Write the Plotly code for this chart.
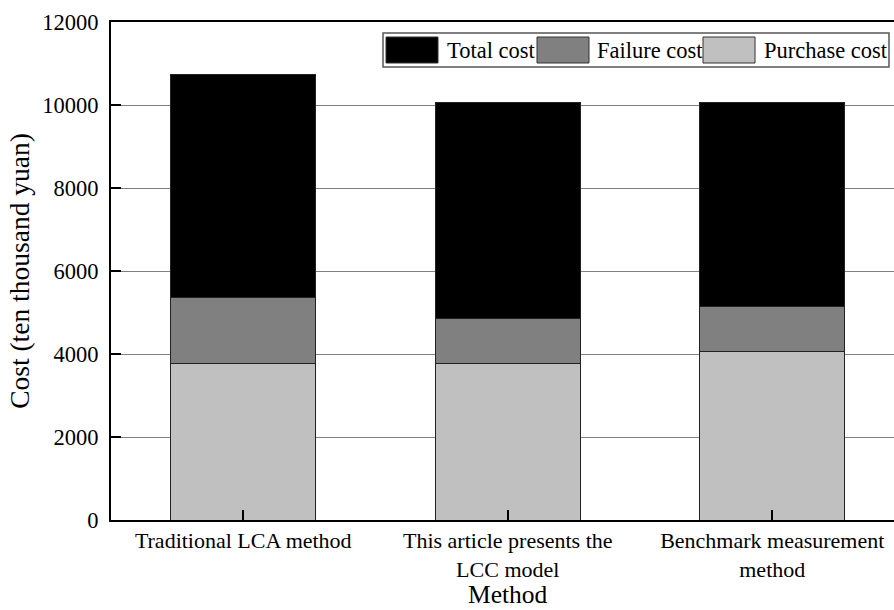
import numpy as np
import plotly.graph_objects as go

categories = ["Traditional LCA method", "This article presents the<br>LCC model", "Benchmark measurement<br>method"]
purchase_cost = [3780, 3780, 4050]
failure_cost = [1570, 1070, 1100]
total_cost = [10730, 10050, 10050]
y_ticks = [0, 2000, 4000, 6000, 8000, 10000, 12000]

FONT = "'Liberation Serif', 'Times New Roman', serif"
W, H = 894, 610
L, R, T, B = 111, 0, 22, 90

top_segment = (np.array(total_cost) - np.array(purchase_cost) - np.array(failure_cost)).tolist()
xs = list(range(len(categories)))

fig = go.Figure()
line_style = dict(color="#222222", width=1)
fig.add_trace(go.Bar(x=xs, y=purchase_cost, name="Purchase cost", marker=dict(color="#c0c0c0", line=line_style), width=0.55))
fig.add_trace(go.Bar(x=xs, y=failure_cost, name="Failure cost", marker=dict(color="#808080", line=line_style), width=0.55))
fig.add_trace(go.Bar(x=xs, y=top_segment, name="Total cost", marker=dict(color="#000000", line=line_style), width=0.55,
                     customdata=total_cost, hovertemplate="Total cost: %{customdata}<extra></extra>"))

def px_x(p):
    return (p - L) / (W - L - R)

def px_y(p):
    return (H - B - p) / (H - B - T)

shapes = []
annotations = []
# legend box
shapes.append(dict(type="rect", xref="paper", yref="paper", x0=px_x(383), x1=px_x(889), y0=px_y(67), y1=px_y(33),
                   line=dict(color="#555555", width=1.5), fillcolor="white", layer="above"))
legend_items = [("Total cost", "#000000", 386, 438, 445), ("Failure cost", "#808080", 537, 589, 595), ("Purchase cost", "#c0c0c0", 703, 755, 762)]
for name, col, a, b, tx in legend_items:
    shapes.append(dict(type="rect", xref="paper", yref="paper", x0=px_x(a), x1=px_x(b), y0=px_y(63), y1=px_y(37),
                       line=dict(color="#333333", width=1), fillcolor=col, layer="above"))
    annotations.append(dict(text=name, xref="paper", yref="paper", x=px_x(tx), y=px_y(50), xanchor="left", yanchor="middle",
                            showarrow=False, font=dict(family=FONT, size=22.5, color="black")))
# x-axis title
annotations.append(dict(text="Method", xref="paper", yref="paper", x=px_x(508), y=px_y(610), xanchor="center", yanchor="bottom",
                        borderpad=0, showarrow=False, font=dict(family=FONT, size=25.5, color="black")))

fig.update_layout(
    width=W, height=H,
    margin=dict(l=L, r=R, t=T, b=B),
    barmode="stack",
    plot_bgcolor="white", paper_bgcolor="white",
    showlegend=False,
    font=dict(family=FONT, size=22.5, color="black"),
    shapes=shapes, annotations=annotations,
    xaxis=dict(range=[-0.5, -0.5 + (W - L - R) / 264.5], tickmode="array", tickvals=xs, ticktext=categories,
               ticks="inside", ticklen=10, tickwidth=2, tickcolor="black", automargin=False,
               showline=True, linecolor="black", linewidth=2, mirror=True, showgrid=False, zeroline=False,
               tickfont=dict(family=FONT, size=22)),
    yaxis=dict(range=[0, 12000], tickmode="array", tickvals=y_ticks, ticktext=[str(v) for v in y_ticks],
               ticks="inside", ticklen=10, tickwidth=2, tickcolor="black", automargin=False,
               showline=True, linecolor="black", linewidth=2, showgrid=True, gridcolor="#808080", gridwidth=1,
               zeroline=False, ticklabelstandoff=6,
               tickfont=dict(family=FONT, size=22.5),
               title=dict(text="Cost (ten thousand yuan)", font=dict(family=FONT, size=27.5), standoff=5)),
)
fig.write_html("out.html")
